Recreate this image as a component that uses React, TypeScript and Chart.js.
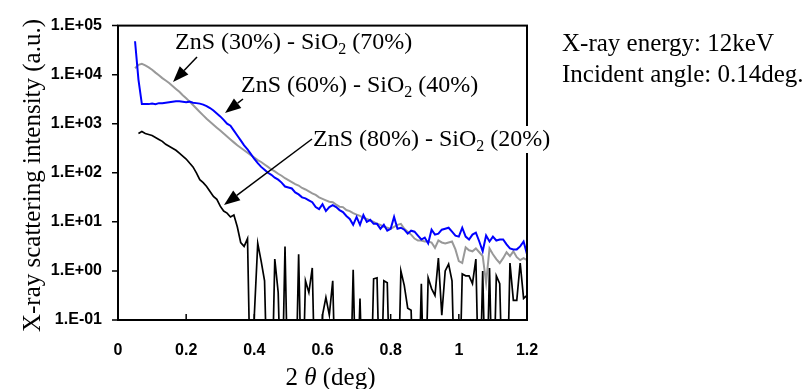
import React, { useEffect, useRef } from "react";
import { Chart, registerables } from "chart.js";

Chart.register(...registerables);

// 2θ (deg)
const twoTheta = [
  0.05, 0.06, 0.07, 0.08, 0.09, 0.1, 0.11, 0.12, 0.13, 0.14, 0.15, 0.16, 0.17, 0.18, 0.19,
  0.2, 0.21, 0.22, 0.23, 0.24, 0.25, 0.26, 0.27, 0.28, 0.29, 0.3, 0.31, 0.32, 0.33, 0.34,
  0.35, 0.36, 0.37, 0.38, 0.39, 0.4, 0.41, 0.42, 0.43, 0.44, 0.45, 0.46, 0.47, 0.48, 0.49,
  0.5, 0.51, 0.52, 0.53, 0.54, 0.55, 0.56, 0.57, 0.58, 0.59, 0.6, 0.61, 0.62, 0.63, 0.64,
  0.65, 0.66, 0.67, 0.68, 0.69, 0.7, 0.71, 0.72, 0.73, 0.74, 0.75, 0.76, 0.77, 0.78, 0.79,
  0.8, 0.81, 0.82, 0.83, 0.84, 0.85, 0.86, 0.87, 0.88, 0.89, 0.9, 0.91, 0.92, 0.93, 0.94,
  0.95, 0.96, 0.97, 0.98, 0.99, 1.0, 1.01, 1.02, 1.03, 1.04, 1.05, 1.06, 1.07, 1.08, 1.09,
  1.1, 1.11, 1.12, 1.13, 1.14, 1.15, 1.16, 1.17, 1.18, 1.19, 1.2,
];

// ZnS (30%) - SiO2 (70%)  (gray)
const zns30 = [
  1.35e4, 1.58e4, 1.66e4, 1.55e4, 1.41e4, 1.26e4, 1.1e4, 9770, 8510, 7590, 6760, 5890, 5130, 4470, 3800,
  3310, 2820, 2400, 2040, 1740, 1480, 1260, 1100, 955, 832, 724, 631, 550, 479, 417,
  363, 324, 288, 257, 229, 204, 182, 166, 148, 132, 117, 107, 95.5, 87.1, 77.6,
  70.8, 64.6, 58.9, 55.0, 49.0, 45.7, 41.7, 38.0, 35.5, 31.6, 29.5, 27.5, 25.7, 25.1, 22.4,
  20.4, 20.0, 17.4, 16.6, 15.1, 14.1, 13.2, 12.0, 11.5, 10.7, 10.0, 9.12, 8.71, 7.94, 7.59,
  7.24, 7.94, 8.71, 9.12, 7.24, 6.31, 5.5, 4.57, 4.17, 4.17, 3.98, 3.98, 3.8, 2.95, 4.17,
  3.8, 3.63, 3.8, 3.98, 2.75, 1.58, 1.45, 3.02, 2.63, 2.51, 2.88, 2.4, 2.0, 0.575, 2.88,
  2.19, 1.74, 1.45, 1.82, 2.4, 2.0, 2.51, 1.91, 1.66, 1.82, 1.66,
];

// ZnS (60%) - SiO2 (40%)  (blue)
const zns60 = [
  4.79e4, 7940, 2510, 2510, 2510, 2570, 2510, 2630, 2630, 2690, 2750, 2820, 2880, 2880, 2820,
  2750, 2820, 2690, 2630, 2570, 2450, 2290, 2090, 1860, 1620, 1410, 1200, 1000, 912, 724,
  575, 457, 363, 302, 240, 191, 158, 132, 115, 100, 91.2, 79.4, 72.4, 63.1, 52.5,
  50.1, 47.9, 39.8, 36.3, 31.6, 30.2, 27.5, 25.1, 20.0, 18.2, 22.9, 16.6, 20.0, 21.9, 20.0,
  17.4, 15.8, 13.2, 11.5, 8.71, 12.6, 8.71, 13.8, 10.0, 11.0, 9.12, 9.12, 7.24, 8.71, 6.61,
  7.24, 12.6, 7.24, 7.59, 6.92, 5.75, 6.61, 6.31, 5.25, 4.37, 4.79, 3.63, 6.92, 5.5, 5.75,
  6.92, 7.24, 7.59, 6.31, 5.25, 5.01, 7.59, 5.01, 4.37, 5.5, 6.03, 3.98, 2.51, 5.25, 3.98,
  5.01, 4.17, 4.37, 4.37, 3.47, 2.88, 2.75, 2.75, 3.16, 3.98, 2.19,
];

// ZnS (80%) - SiO2 (20%)  (black); 0.001 = no counts (below the axis)
const zns80 = [
  null, 631, 692, 631, 603, 575, 525, 479, 437, 380, 347, 316, 288, 251, 219,
  191, 158, 132, 100, 72.4, 63.1, 52.5, 41.7, 33.1, 28.8, 20.9, 16.6, 15.1, 12.6, 13.8,
  7.94, 3.8, 3.16, 4.57, 0.001, 0.126, 3.63, 1.58, 0.631, 0.001, 0.001, 1.74, 0.363, 0.001, 3.16,
  0.001, 0.001, 0.001, 2.19, 0.001, 0.631, 0.363, 1.15, 0.001, 0.001, 0.126, 0.288, 0.126, 0.631, 0.001,
  0.001, 0.001, 0.001, 0.001, 1.05, 0.001, 0.275, 0.001, 0.001, 0.001, 0.692, 0.724, 0.001, 0.631, 0.575,
  0.001, 0.001, 0.001, 1.0, 0.501, 0.174, 0.158, 0.001, 0.001, 0.55, 0.001, 0.724, 0.437, 0.316, 1.82,
  0.126, 1.0, 1.38, 0.631, 0.001, 0.001, 0.871, 0.794, 0.794, 0.55, 1.74, 0.001, 1.0, 0.001, 1.15,
  0.001, 0.794, 0.55, 0.001, 0.001, 1.45, 0.251, 0.251, 1.45, 0.275, 0.316,
];

const yTickValues = [0.1, 1, 10, 100, 1000, 10000, 100000];
const yTickLabels = ["1.E-01", "1.E+00", "1.E+01", "1.E+02", "1.E+03", "1.E+04", "1.E+05"];
const xTickValues = [0, 0.2, 0.4, 0.6, 0.8, 1.0, 1.2];
const xTickLabels = ["0", "0.2", "0.4", "0.6", "0.8", "1", "1.2"];

const seriesNames = [
  ["ZnS (30%) - SiO", "2", " (70%)"],
  ["ZnS (60%) - SiO", "2", " (40%)"],
  ["ZnS (80%) - SiO", "2", " (20%)"],
];
const infoLines = ["X-ray energy: 12keV", "Incident angle: 0.14deg."];
const yTitle = "X-ray scattering intensity (a.u.)";

const SERIF = '"Liberation Serif", "Times New Roman", serif';
const SANS = '"Liberation Sans", Arial, sans-serif';

function drawArrow(ctx: CanvasRenderingContext2D, x1: number, y1: number, x2: number, y2: number) {
  const headLen = 16;
  const headW = 12;
  const ang = Math.atan2(y2 - y1, x2 - x1);
  const bx = x2 - headLen * Math.cos(ang);
  const by = y2 - headLen * Math.sin(ang);
  ctx.beginPath();
  ctx.moveTo(x1, y1);
  ctx.lineTo(bx, by);
  ctx.stroke();
  ctx.beginPath();
  ctx.moveTo(x2, y2);
  ctx.lineTo(bx + (headW / 2) * Math.sin(ang), by - (headW / 2) * Math.cos(ang));
  ctx.lineTo(bx - (headW / 2) * Math.sin(ang), by + (headW / 2) * Math.cos(ang));
  ctx.closePath();
  ctx.fill();
}

function subWidth(ctx: CanvasRenderingContext2D, parts: string[], size: number) {
  ctx.font = `${size}px ${SERIF}`;
  let w = ctx.measureText(parts[0]).width + ctx.measureText(parts[2]).width;
  ctx.font = `${Math.round(size * 0.65)}px ${SERIF}`;
  w += ctx.measureText(parts[1]).width;
  return w;
}

function drawSubText(ctx: CanvasRenderingContext2D, parts: string[], x: number, y: number, size: number) {
  ctx.textAlign = "left";
  ctx.textBaseline = "alphabetic";
  let cx = x;
  ctx.font = `${size}px ${SERIF}`;
  ctx.fillText(parts[0], cx, y);
  cx += ctx.measureText(parts[0]).width;
  ctx.font = `${Math.round(size * 0.65)}px ${SERIF}`;
  ctx.fillText(parts[1], cx, y + size * 0.2);
  cx += ctx.measureText(parts[1]).width;
  ctx.font = `${size}px ${SERIF}`;
  ctx.fillText(parts[2], cx, y);
}

const decorPlugin = {
  id: "decor",
  afterDatasetsDraw(chart: any) {
    const ctx: CanvasRenderingContext2D = chart.ctx;
    const { left, right, top, bottom } = chart.chartArea;
    const xs = chart.scales.x;
    const ys = chart.scales.y;
    ctx.save();
    ctx.strokeStyle = "#000";
    ctx.fillStyle = "#000";
    // tick marks
    ctx.lineWidth = 1.5;
    ctx.beginPath();
    yTickValues.forEach((v) => {
      const py = ys.getPixelForValue(v);
      ctx.moveTo(left - 6, py);
      ctx.lineTo(left, py);
    });
    xTickValues.forEach((v) => {
      const px = xs.getPixelForValue(v);
      ctx.moveTo(px, bottom);
      ctx.lineTo(px, bottom - 6);
    });
    ctx.stroke();
    // frame
    ctx.lineWidth = 2;
    ctx.strokeRect(left, top, right - left, bottom - top);

    // annotations
    const size = 24;
    const pos = [
      [175, 49],
      [241, 92],
      [313, 146],
    ];
    seriesNames.forEach((parts, i) => {
      const w = subWidth(ctx, parts, size);
      ctx.fillStyle = "#fff";
      ctx.fillRect(pos[i][0] - 2, pos[i][1] - 20, w + 4, 27);
    });
    ctx.fillStyle = "#000";
    ctx.lineWidth = 1.5;
    drawArrow(ctx, 197, 57, 173, 82);
    drawArrow(ctx, 243, 99, 225, 113);
    drawArrow(ctx, 312, 139, 224, 205);
    seriesNames.forEach((parts, i) => drawSubText(ctx, parts, pos[i][0], pos[i][1], size));

    // info text
    ctx.font = `25px ${SERIF}`;
    ctx.textAlign = "left";
    ctx.textBaseline = "alphabetic";
    ctx.fillText(infoLines[0], 562, 51);
    ctx.fillText(infoLines[1], 562, 82);

    // y title
    ctx.save();
    ctx.translate(40, 175.5);
    ctx.rotate(-Math.PI / 2);
    ctx.textAlign = "center";
    ctx.font = `25px ${SERIF}`;
    ctx.fillText(yTitle, 0, 0);
    ctx.restore();

    // x title: 2θ (deg)
    const p1 = "2 ";
    const p2 = "\u03B8";
    const p3 = " (deg)";
    ctx.font = `25px ${SERIF}`;
    const w1 = ctx.measureText(p1).width;
    const w3 = ctx.measureText(p3).width;
    ctx.font = `italic 25px ${SERIF}`;
    const w2 = ctx.measureText(p2).width;
    let cx = 330.5 - (w1 + w2 + w3) / 2;
    ctx.font = `25px ${SERIF}`;
    ctx.fillText(p1, cx, 385);
    cx += w1;
    ctx.font = `italic 25px ${SERIF}`;
    ctx.fillText(p2, cx, 385);
    cx += w2;
    ctx.font = `25px ${SERIF}`;
    ctx.fillText(p3, cx, 385);
    ctx.restore();
  },
};

export default function App() {
  const ref = useRef<HTMLCanvasElement | null>(null);
  useEffect(() => {
    if (!ref.current) return;
    const mk = (arr: (number | null)[]) => twoTheta.map((x, i) => ({ x, y: arr[i] }));
    const chart = new Chart(ref.current, {
      type: "line",
      data: {
        datasets: [
          { label: "ZnS (80%) - SiO2 (20%)", data: mk(zns80), borderColor: "#000000", borderWidth: 1.7 },
          { label: "ZnS (60%) - SiO2 (40%)", data: mk(zns60), borderColor: "#0000ff", borderWidth: 2 },
          { label: "ZnS (30%) - SiO2 (70%)", data: mk(zns30), borderColor: "#999999", borderWidth: 2 },
        ] as any,
      },
      options: {
        animation: false,
        responsive: false,
        devicePixelRatio: 1,
        elements: { point: { radius: 0 }, line: { tension: 0, fill: false } },
        layout: { padding: { top: 20, right: 282, left: 0, bottom: 0 } },
        plugins: { legend: { display: false }, tooltip: { enabled: false }, title: { display: false } },
        scales: {
          x: {
            type: "linear",
            min: 0,
            max: 1.2,
            grid: { display: false, drawTicks: false },
            border: { display: false },
            afterBuildTicks: (s: any) => {
              s.ticks = xTickValues.map((v) => ({ value: v }));
            },
            afterFit: (s: any) => {
              s.height = 69;
            },
            ticks: {
              autoSkip: false,
              maxRotation: 0,
              padding: 21,
              color: "#000",
              font: { family: SANS, size: 16, weight: "bold" },
              callback: (v: any) => xTickLabels[xTickValues.findIndex((t) => Math.abs(t - v) < 1e-9)],
            },
          },
          y: {
            type: "logarithmic",
            min: 0.1,
            max: 100000,
            grid: { display: false, drawTicks: false },
            border: { display: false },
            afterBuildTicks: (s: any) => {
              s.ticks = yTickValues.map((v) => ({ value: v }));
            },
            afterFit: (s: any) => {
              s.width = 118;
            },
            ticks: {
              autoSkip: false,
              padding: 16,
              color: "#000",
              font: { family: SANS, size: 16, weight: "bold" },
              callback: (v: any) => yTickLabels[yTickValues.findIndex((t) => Math.abs(t - v) / t < 1e-6)],
            },
          },
        },
      } as any,
      plugins: [decorPlugin],
    });
    return () => chart.destroy();
  }, []);
  return (
    <div style={{ position: "fixed", left: 0, top: 0, width: 809, height: 389, background: "#fff" }}>
      <canvas ref={ref} width={809} height={389} style={{ width: 809, height: 389, display: "block" }} />
    </div>
  );
}
